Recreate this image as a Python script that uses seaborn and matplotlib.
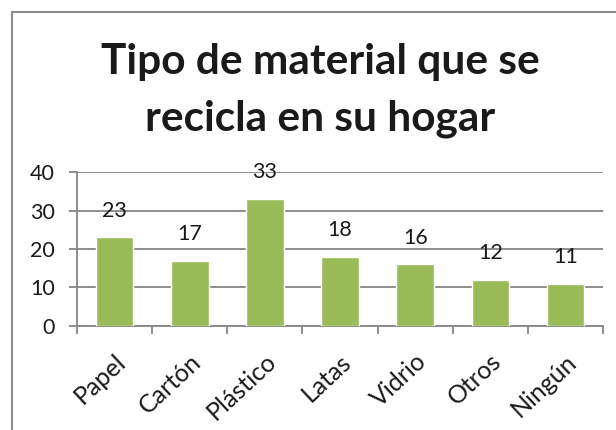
import matplotlib
matplotlib.use("Agg")
from matplotlib import pyplot as plt
from matplotlib.patches import Rectangle
import pandas as pd
import seaborn as sns

# Data
materiales = ['Papel', 'Cartón', 'Plástico', 'Latas', 'Vidrio', 'Otros', 'Ningún']
valores = [23, 17, 33, 18, 16, 12, 11]
y_ticks = [0, 10, 20, 30, 40]

df = pd.DataFrame({'Material': materiales, 'Valor': valores})

sns.set_style('white')
plt.rcParams['font.family'] = ['Lato', 'DejaVu Sans']

fig = plt.figure(figsize=(6.16, 4.30), dpi=100)
ax = fig.add_axes([0.125, 0.2419, 0.854, 0.358])

sns.barplot(data=df, x='Material', y='Valor', color='#9BBB59', saturation=1,
            width=0.5, ax=ax, zorder=3)

ax.set_ylim(0, 40)
ax.set_xlim(-0.5, len(materiales) - 0.5)
ax.set_yticks(y_ticks)
ax.yaxis.grid(True, color='#868686', linewidth=1.3, zorder=0)
ax.set_axisbelow(True)
ax.set_xlabel('')
ax.set_ylabel('')

for s in ['top', 'right']:
    ax.spines[s].set_visible(False)
for s in ['left', 'bottom']:
    ax.spines[s].set_color('#868686')
    ax.spines[s].set_linewidth(1.3)

ax.tick_params(axis='y', length=6, width=1.3, color='#868686', labelsize=15.5,
               labelcolor='#1a1a1a', direction='out', left=True, pad=10)
ax.set_xticks(range(len(materiales)))
ax.set_xticklabels(materiales, rotation=43, ha='right', rotation_mode='anchor',
                   fontsize=18, color='#1a1a1a')
ax.tick_params(axis='x', length=0, pad=17)
# ticks between categories
ax.set_xticks([i - 0.5 for i in range(len(materiales) + 1)], minor=True)
ax.tick_params(axis='x', which='minor', length=6, width=1.3, color='#868686',
               direction='out', bottom=True)
for lbl in ax.get_xticklabels():
    lbl.set_x(lbl.get_position()[0])

for i, v in enumerate(valores):
    ax.annotate(str(v), (i, v), xytext=(0, 12), textcoords='offset points',
                ha='center', va='bottom', fontsize=15.5, color='#1a1a1a')

fig.text(0.52, 0.855, 'Tipo de material que se', ha='center', va='center',
         fontsize=30.5, fontweight='bold', color='#1a1a1a')
fig.text(0.52, 0.725, 'recicla en su hogar', ha='center', va='center',
         fontsize=30.5, fontweight='bold', color='#1a1a1a')

# outer chart border
fig.patches.append(Rectangle((12 / 616, -0.1), 1.2, 1 - 12 / 430 + 0.1,
                             transform=fig.transFigure, fill=False,
                             edgecolor='#8c8c8c', linewidth=1.5))

fig.savefig('out.png', dpi=100)
